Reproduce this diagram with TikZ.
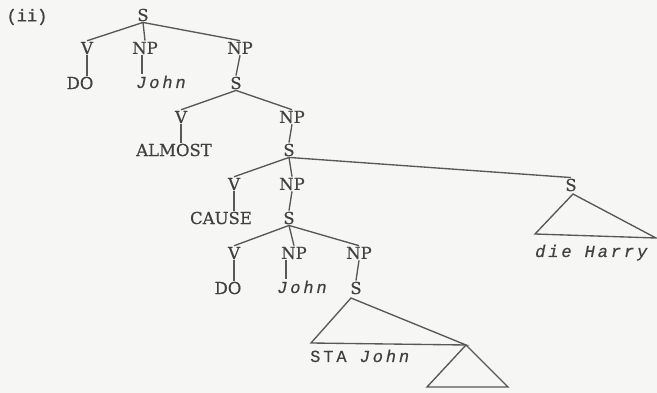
\documentclass[tikz,border=0pt]{standalone}
\usepackage{fontspec}
\setmainfont{DejaVu Serif}
\newfontfamily\labf[FakeBold=0.6]{DejaVu Serif}
\newfontfamily\twsp[LetterSpace=17,FakeBold=0.4]{Liberation Mono}
\newfontfamily\twpl[FakeBold=1]{Liberation Mono}
\definecolor{ink}{HTML}{404040}
\definecolor{lin}{HTML}{585858}
\definecolor{bg}{HTML}{F6F6F4}
\begin{document}
\begin{tikzpicture}[x=1pt,y=-1pt,
  every node/.style={inner sep=1pt,text=ink},
  lab/.style={font=\labf\fontsize{16.5}{16.5}\selectfont},
  twi/.style={font=\twsp\itshape\fontsize{17}{17}\selectfont,anchor=base west},
  twu/.style={font=\twpl\fontsize{17}{17}\selectfont},
  edge/.style={draw=lin,line width=1.35pt}]
\fill[bg] (0,0) rectangle (657,393);
\useasboundingbox (0,0) rectangle (657,393);
% labels
\node[twu] (ii) at (27,17) {(ii)};
\node[lab] (S0) at (143,15) {S};
\node[lab] (V1) at (87,48) {V};
\node[lab] (NP1) at (145,48) {NP};
\node[lab] (NP2) at (240,48) {NP};
\node[lab] (DO1) at (80,83) {DO};
\node[twi] (J1) at (135,88) {John};
\node[lab] (S2) at (236,83) {S};
\node[lab] (V3) at (181,117) {V};
\node[lab] (NP3) at (292,117) {NP};
\node[lab] (AL) at (174,150) {ALMOST};
\node[lab] (S4) at (289,150) {S};
\node[lab] (V5) at (234,184) {V};
\node[lab] (NP5) at (292,184) {NP};
\node[lab] (S5) at (571,185) {S};
\node[lab] (CA) at (221,218) {CAUSE};
\node[lab] (S6) at (289,218) {S};
\node[lab] (V7) at (234,253) {V};
\node[lab] (NP7) at (294,253) {NP};
\node[lab] (NP8) at (359,253) {NP};
\node[twi] (DH) at (534,257) {die Harry};
\node[lab] (DO8) at (228,288) {DO};
\node[twi] (J8) at (276,293) {John};
\node[lab] (S8) at (356,288) {S};
\node[anchor=base west,inner sep=1pt] (STA) at (309,362) {\twsp\fontsize{17}{17}\selectfont STA \itshape John};
% triangle corners
\coordinate (ta) at (351,298);
\coordinate (tl) at (311,343);
\coordinate (tr) at (466,345);
\coordinate (sl) at (427,387);
\coordinate (sr) at (508,387);
\coordinate (ha) at (573,194);
\coordinate (hl) at (535,234);
\coordinate (hr) at (656,238);
% edges
\draw[edge] (S0.south) -- (V1.north);
\draw[edge] (S0.south) -- (NP1.north);
\draw[edge] (S0.south) -- (NP2.north);
\draw[edge] (V1.south) -- (V1.south |- DO1.north);
\draw[edge] ([xshift=-3pt]NP1.south) -- ([xshift=-3pt]NP1.south |- J1.north);
\draw[edge] (NP2.south) -- (S2.north);
\draw[edge] (S2.south) -- (V3.north);
\draw[edge] (S2.south) -- (NP3.north);
\draw[edge] (V3.south) -- (V3.south |- AL.north);
\draw[edge] (NP3.south) -- (S4.north);
\draw[edge] (S4.south) -- (V5.north);
\draw[edge] (S4.south) -- (NP5.north);
\draw[edge] (S4.south) -- (S5.north);
\draw[edge] (V5.south) -- (V5.south |- CA.north);
\draw[edge] (NP5.south) -- (S6.north);
\draw[edge] (S6.south) -- (V7.north);
\draw[edge] (S6.south) -- (NP7.north);
\draw[edge] (S6.south) -- (NP8.north);
\draw[edge] (V7.south) -- (V7.south |- DO8.north);
\draw[edge] ([xshift=-8pt]NP7.south) -- ([xshift=-8pt]NP7.south |- J8.north);
\draw[edge] (NP8.south) -- (S8.north);
\draw[edge] (ta) -- (tl) -- (tr) -- cycle;
\draw[edge] (tr) -- (sl) -- (sr) -- cycle;
\draw[edge] (ha) -- (hl) -- (hr) -- cycle;
\end{tikzpicture}
\end{document}
